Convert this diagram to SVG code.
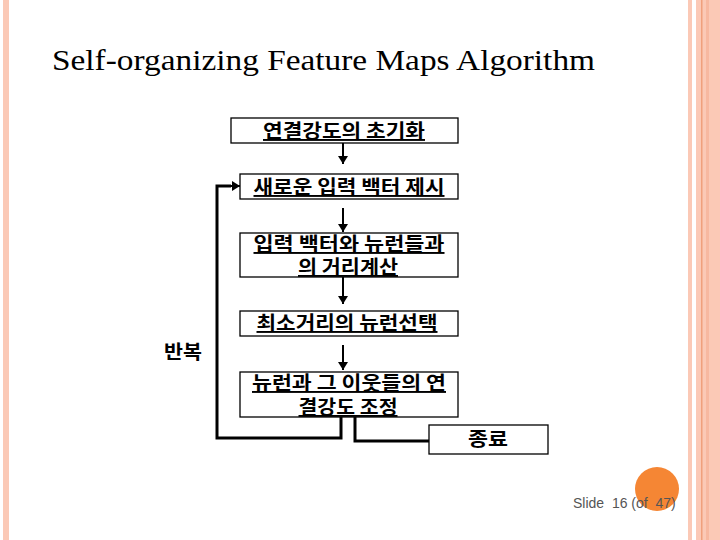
<svg xmlns="http://www.w3.org/2000/svg" width="720" height="540" viewBox="0 0 720 540">
<defs>
<marker id="ah" markerWidth="8" markerHeight="10" refX="8" refY="5" orient="auto" markerUnits="userSpaceOnUse">
<path d="M0,0 L8,5 L0,10 Z" fill="#000"/>
</marker>
<style>
.box{fill:#fff;stroke:#000;stroke-width:1.3}
.kt{font-family:"Noto Sans CJK KR","Noto Sans",sans-serif;font-size:19px;font-weight:bold;fill:#000;text-anchor:middle;text-decoration:underline}
.ln{fill:none;stroke:#000;stroke-width:2}
.lp{fill:none;stroke:#000;stroke-width:3}
</style>
</defs>
<rect width="720" height="540" fill="#fff"/>
<rect x="3" y="0" width="6" height="540" fill="#fbc9b6"/>
<rect x="688" y="0" width="4" height="540" fill="#fbc9b6"/>
<rect x="696" y="0" width="24" height="540" fill="#fbc9b6"/>
<rect x="701" y="0" width="1.5" height="540" fill="#f0a07c"/>
<rect x="706" y="0" width="3" height="540" fill="#f7b8a0"/>
<text x="52" y="70" font-family="Liberation Serif,serif" font-size="30" textLength="543" lengthAdjust="spacingAndGlyphs" fill="#000">Self-organizing Feature Maps Algorithm</text>
<g id="connectors">
<line class="ln" x1="343" y1="143" x2="343" y2="164" marker-end="url(#ah)"/>
<line class="ln" x1="343" y1="208" x2="343" y2="232" marker-end="url(#ah)"/>
<line class="ln" x1="343" y1="277" x2="343" y2="304" marker-end="url(#ah)"/>
<line class="ln" x1="343" y1="345" x2="343" y2="370" marker-end="url(#ah)"/>
<polyline class="lp" points="341,417 341,438 217,438 217,186 231,186"/>
<line class="ln" x1="229" y1="186" x2="240" y2="186" marker-end="url(#ah)"/>
<polyline class="lp" points="355,417 355,441 430,441"/>
</g>
<g id="n1"><rect class="box" x="231" y="118" width="227" height="25"/><text class="kt" x="344" y="138" textLength="162" lengthAdjust="spacingAndGlyphs">연결강도의 초기화</text></g>
<g id="n2"><rect class="box" x="240" y="174" width="218" height="25"/><text class="kt" x="349" y="194" textLength="191" lengthAdjust="spacingAndGlyphs">새로운 입력 백터 제시</text></g>
<g id="n3"><rect class="box" x="240" y="233" width="218" height="44"/><text class="kt" x="349" y="251" textLength="191" lengthAdjust="spacingAndGlyphs">입력 백터와 뉴런들과</text><text class="kt" x="348" y="274" textLength="100" lengthAdjust="spacingAndGlyphs">의 거리계산</text></g>
<g id="n4"><rect class="box" x="240" y="311" width="218" height="25"/><text class="kt" x="347" y="330" textLength="181" lengthAdjust="spacingAndGlyphs">최소거리의 뉴런선택</text></g>
<g id="n5"><rect class="box" x="240" y="372" width="218" height="45"/><text class="kt" x="349" y="390" textLength="194" lengthAdjust="spacingAndGlyphs">뉴런과 그 이웃들의 연</text><text class="kt" x="348" y="414" textLength="99" lengthAdjust="spacingAndGlyphs">결강도 조정</text></g>
<g id="n6"><rect class="box" x="429" y="425" width="119" height="29"/><text class="kt" x="488" y="446" textLength="40" lengthAdjust="spacingAndGlyphs" style="text-decoration:none">종료</text></g>
<text x="183" y="359" font-family="Noto Sans CJK KR,sans-serif" font-size="19" font-weight="bold" text-anchor="middle" textLength="38" lengthAdjust="spacingAndGlyphs">반복</text>
<circle cx="657" cy="489" r="22" fill="#f58634"/>
<text x="573" y="508" font-family="Liberation Sans,Arial,sans-serif" font-size="14" fill="#555" style="white-space:pre">Slide  16 (of  47)</text>
</svg>
